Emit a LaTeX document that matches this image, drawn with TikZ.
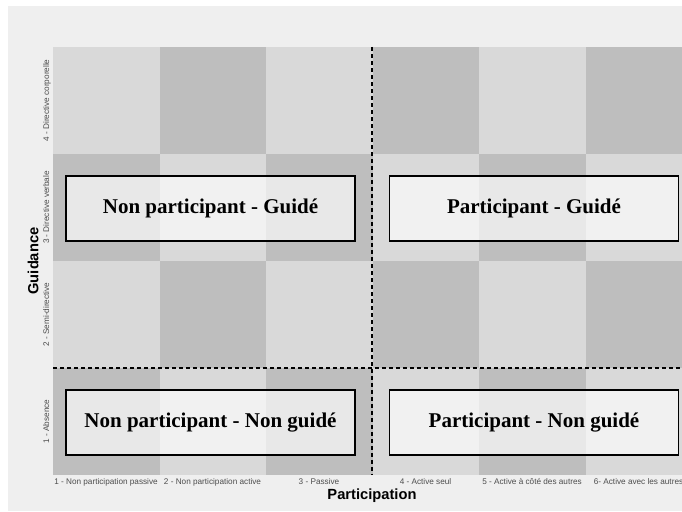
\documentclass[tikz,border=0pt]{standalone}
\usepackage{fontspec}
\setmainfont{Liberation Serif}
\setsansfont{Liberation Sans}
\begin{document}
\begin{tikzpicture}[x=1pt,y=-1pt,
  quad/.style={draw=black,line width=1.3pt,fill=white,fill opacity=0.65,text opacity=1,minimum width=289pt,minimum height=65pt,inner sep=0pt,font=\fontsize{21}{24}\selectfont\bfseries},
  xtick/.style={font=\sffamily\fontsize{8.2}{9}\selectfont,text=tickc,anchor=base},
  ytick/.style={font=\sffamily\fontsize{8.2}{9}\selectfont,text=tickc,rotate=90,anchor=base},
  axtitle/.style={font=\sffamily\bfseries\fontsize{14.7}{17}\selectfont,text=black},
  sep/.style={draw=black,line width=1.2pt,dash pattern=on 4pt off 3pt}]
\definecolor{bgc}{HTML}{EFEFEF}
\definecolor{cellL}{HTML}{D9D9D9}
\definecolor{cellD}{HTML}{BEBEBE}
\definecolor{tickc}{HTML}{4D4D4D}
\useasboundingbox (0,0) rectangle (682,511);
\fill[white] (0,0) rectangle (682,511);
\fill[bgc] (8,6) rectangle (682,511);
% checkerboard
\begin{scope}
\clip (53,47) rectangle (682,475);
\foreach \i in {0,...,5}{
  \foreach \j in {0,...,3}{
    \pgfmathtruncatemacro{\cpar}{mod(\i+\j,2)}
    \ifnum\cpar=0
      \fill[cellL] ({53+\i*106.5},{47+\j*107}) rectangle ({53+(\i+1)*106.5},{47+(\j+1)*107});
    \else
      \fill[cellD] ({53+\i*106.5},{47+\j*107}) rectangle ({53+(\i+1)*106.5},{47+(\j+1)*107});
    \fi
  }
}
\end{scope}
% dividers
\coordinate (vt) at (372,47);
\coordinate (vb) at (372,475);
\coordinate (hl) at (53,368);
\coordinate (hr) at (682,368);
\draw[sep] (vt) -- (vb);
\draw[sep] (hl) -- (hr);
% quadrants
\node[quad] (ng) at (210.5,208.5) {Non participant - Guidé};
\node[quad] (pg) at (534,208.5) {Participant - Guidé};
\node[quad] (nn) at (210.5,422.5) {Non participant - Non guidé};
\node[quad] (pn) at (534,422.5) {Participant - Non guidé};
% x ticks
\node[xtick] (x1) at (106,484) {1 - Non participation passive};
\node[xtick] (x2) at (212.5,484) {2 - Non participation active};
\node[xtick] (x3) at (319,484) {3 - Passive};
\node[xtick] (x4) at (425.5,484) {4 - Active seul};
\node[xtick] (x5) at (532,484) {5 - Active à côté des autres};
\node[xtick] (x6) at (638.5,484) {6- Active avec les autres};
% y ticks
\node[ytick] (y4) at (49,100.5) {4 - Directive corporelle};
\node[ytick] (y3) at (49,207.5) {3 - Directive verbale};
\node[ytick] (y2) at (49,314.5) {2 - Semi-directive};
\node[ytick] (y1) at (49,421.5) {1 - Absence};
% axis titles
\node[axtitle] (xt) at (372,496) {Participation};
\node[axtitle,rotate=90] (yt) at (33,261) {Guidance};
\end{tikzpicture}
\end{document}
